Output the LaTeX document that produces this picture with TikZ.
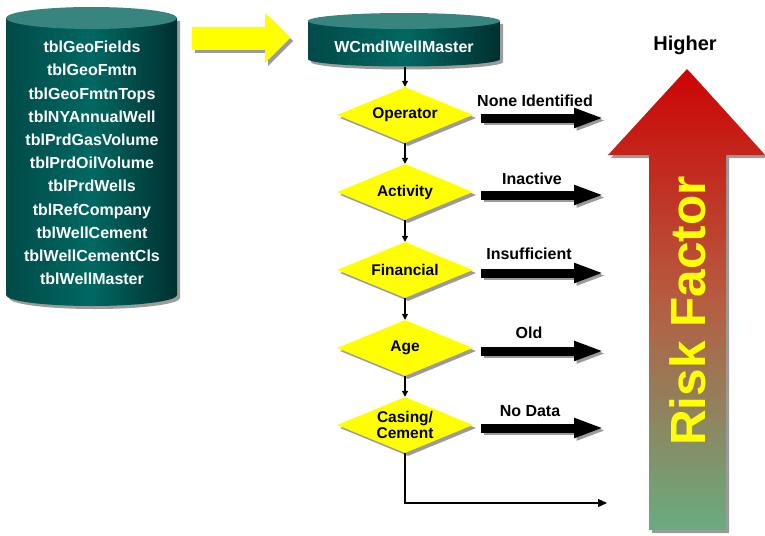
\documentclass[tikz,border=0pt]{standalone}
\usepackage{fontspec}
\setmainfont{Liberation Sans}
\usetikzlibrary{arrows.meta,shapes.geometric,shadows}

\definecolor{cylleft}{RGB}{0,74,72}
\definecolor{cylmid}{RGB}{0,104,98}
\definecolor{cylright}{RGB}{0,48,48}
\definecolor{cyltop}{RGB}{56,132,126}
\definecolor{shadowgray}{RGB}{155,155,155}
\definecolor{riskred}{RGB}{204,4,4}
\definecolor{riskmid}{RGB}{182,92,64}
\definecolor{riskgreen}{RGB}{104,172,126}
\definecolor{hiyellow}{RGB}{255,255,0}

\begin{document}
\begin{tikzpicture}[x=1pt,y=-1pt,
  boxshadow/.style={drop shadow={shadow xshift=3pt,shadow yshift=-3pt,fill=shadowgray,opacity=1}},
  cylbody/.style={left color=cylleft,right color=cylright,middle color=cylmid,boxshadow},
  cyltext/.style={text=white,font=\bfseries\fontsize{16}{23.2}\selectfont,align=center,inner sep=0pt},
  decision/.style={diamond,fill=hiyellow,inner sep=0pt,minimum width=136pt,minimum height=56pt,
    aspect=2.43,boxshadow,font=\bfseries\fontsize{15.5}{16}\selectfont,align=center},
  flow/.style={draw=black,line width=1.1pt,-{Triangle[length=6pt,width=6pt]}},
  fatarrow/.style={line width=9pt,-{Triangle[length=30pt,width=18pt]}},
  fatshadow/.style={fatarrow,draw=shadowgray,transform canvas={shift={(2.5pt,-2.5pt)}}},
  outcome/.style={font=\bfseries\fontsize{16}{16}\selectfont,inner sep=0pt}]
\useasboundingbox (0,0) rectangle (765,535);

% source tables
\shade[cylbody] (6,18) -- (6,295) arc[start angle=180,end angle=0,x radius=85.5,y radius=11] -- (177,18) -- cycle;
\fill[cyltop] (91.5,18) ellipse[x radius=85.5,y radius=11];
\node[cyltext] (tables) at (92,163) {tblGeoFields\\tblGeoFmtn\\tblGeoFmtnTops\\tblNYAnnualWell\\tblPrdGasVolume\\tblPrdOilVolume\\tblPrdWells\\tblRefCompany\\tblWellCement\\tblWellCementCls\\tblWellMaster};

% feed arrow
\fill[hiyellow,boxshadow] (192,27) -- (265,27) -- (265,13) -- (290,38) -- (265,63) -- (265,50) -- (192,50) -- cycle;

% master table
\shade[cylbody] (308,21) -- (308,59) arc[start angle=180,end angle=0,x radius=96,y radius=7.5] -- (500,21) -- cycle;
\fill[cyltop] (404,21) ellipse[x radius=96,y radius=8];
\node[cyltext] (master) at (404,47) {WCmdlWellMaster};
\coordinate (masterbase) at (405,67);

% screening steps
\node[decision] (op)  at (405,115) {Operator};
\node[decision] (act) at (405,192) {Activity};
\node[decision] (fin) at (405,270) {Financial};
\node[decision] (age) at (405,348) {Age};
\node[decision] (cas) at (405,425) {Casing/\\Cement};

\draw[flow] (masterbase) -- (op.north);
\draw[flow] (op.south) -- (act.north);
\draw[flow] (act.south) -- (fin.north);
\draw[flow] (fin.south) -- (age.north);
\draw[flow] (age.south) -- (cas.north);

\coordinate (endpass) at (607,503);
\draw[draw=black,line width=1.1pt,-{Triangle[length=9pt,width=8pt]}] (cas.south) |- (endpass);

% outcomes
\coordinate (opend)  at (604,118);
\coordinate (actend) at (604,195);
\coordinate (finend) at (604,273);
\coordinate (ageend) at (604,351);
\coordinate (casend) at (604,428);
\foreach \n/\e in {op/opend,act/actend,fin/finend,age/ageend,cas/casend}{
  \draw[fatshadow] ([xshift=8pt,yshift=-3pt]\n.east) -- (\e);
  \draw[fatarrow]  ([xshift=8pt,yshift=-3pt]\n.east) -- (\e);
}
\node[outcome] (opl)  at (535,101) {None Identified};
\node[outcome] (actl) at (532,179) {Inactive};
\node[outcome] (finl) at (529,254) {Insufficient};
\node[outcome] (agel) at (529,333) {Old};
\node[outcome] (casl) at (530,411) {No Data};

% risk scale
\shade[top color=riskred,bottom color=riskgreen,middle color=riskmid,boxshadow]
  (649,530) -- (649,155) -- (608,155) -- (687,69) -- (765,155) -- (726,155) -- (726,530) -- cycle;
\node[rotate=90,text=hiyellow,font=\bfseries\fontsize{49.5}{49.5}\selectfont,inner sep=0pt] (risk) at (688,311) {Risk Factor};
\node[font=\bfseries\fontsize{20}{20}\selectfont,inner sep=0pt] (higher) at (685,45) {Higher};
\end{tikzpicture}
\end{document}
